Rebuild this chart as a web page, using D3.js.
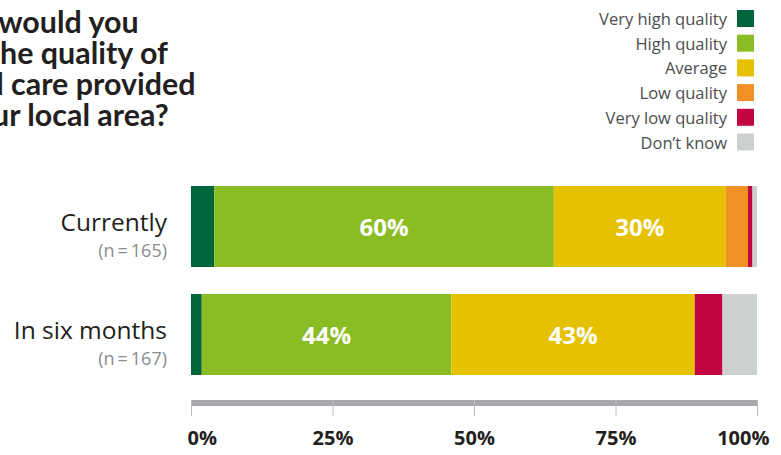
<!DOCTYPE html>
<html>
<head>
<meta charset="utf-8">
<script src="https://cdn.jsdelivr.net/npm/d3@7"></script>
<style>
  html, body { margin: 0; padding: 0; background: #fff; }
  svg { display: block; font-family: "Open Sans", "Noto Sans", sans-serif; }
</style>
</head>
<body>
<svg id="chart" width="781" height="455"></svg>
<script>
// Response categories, in stacking order
const categories = ["Very high quality", "High quality", "Average", "Low quality", "Very low quality", "Don\u2019t know"];
const colors = ["#00653a", "#8abd24", "#e5c100", "#f39025", "#c00541", "#cdd0d1"];

// Time periods and sample sizes
const periods = ["Currently", "In six months"];
const sampleSizes = ["(n\u2009=\u2009165)", "(n\u2009=\u2009167)"];

// Share of respondents (%) per category, one array per period
const currently = [4.1, 60.0, 30.4, 3.9, 0.8, 0.8];
const inSixMonths = [1.9, 44.1, 43.0, 0.0, 4.9, 6.1];
const seriesValues = [currently, inSixMonths];

// Segments that carry a value label
const labelledCategories = ["High quality", "Average"];

const tickValues = [0, 25, 50, 75, 100];
const tickLabels = ["0%", "25%", "50%", "75%", "100%"];

const titleLines = ["How would you", "rate the quality of", "social care provided", "in your local area?"];

const svg = d3.select("#chart");

const x = d3.scaleLinear().domain([0, 100]).range([191, 757]);
const y = d3.scaleBand().domain(periods).range([186, 375]).paddingInner(0.25).paddingOuter(0);

// Title: left-aligned block whose start sits past the left edge of the frame.
// Size is set so that the second line runs from "he quality of" to x = 168.
const title = svg.append("g");
const titleText = title.selectAll("text").data(titleLines).join("text")
  .attr("y", (d, i) => 33 + i * 31)
  .attr("font-family", "Lato, \"Open Sans\", sans-serif")
  .attr("font-size", 100)
  .attr("font-weight", 700)
  .attr("fill", "#231f20")
  .text(d => d);
const line2 = titleText.nodes()[1];
const prefix = line2.getSubStringLength(0, 6);          // "rate t"
const visible = line2.getComputedTextLength() - prefix;  // "he quality of"
const titleSize = 100 * 168 / visible;
titleText.attr("font-size", titleSize).attr("x", -prefix * titleSize / 100);

// Legend, right-aligned
const legend = svg.append("g");
const legendRow = legend.selectAll("g").data(categories).join("g")
  .attr("transform", (d, i) => `translate(0, ${10 + i * 24.7})`);
legendRow.append("rect")
  .attr("x", 737).attr("y", 0).attr("width", 17).attr("height", 17)
  .attr("fill", (d, i) => colors[i]);
legendRow.append("text")
  .attr("x", 727).attr("y", 15)
  .attr("text-anchor", "end")
  .attr("font-size", 16.5)
  .attr("fill", "#4d4d4f")
  .text(d => d);

// Stacked bars
const stacked = seriesValues.map((vals, pi) => {
  let acc = 0;
  return vals.map((v, ci) => {
    const seg = { period: periods[pi], category: categories[ci], ci, x0: acc, x1: acc + v, v };
    acc += v;
    return seg;
  });
});

const bars = svg.append("g");
stacked.forEach(row => {
  bars.selectAll(null).data(row.filter(s => s.v > 0)).join("rect")
    .attr("x", s => x(s.x0))
    .attr("y", s => y(s.period))
    .attr("width", s => x(s.x1) - x(s.x0))
    .attr("height", y.bandwidth())
    .attr("fill", s => colors[s.ci]);
  bars.selectAll(null).data(row.filter(s => labelledCategories.includes(s.category))).join("text")
    .attr("x", s => x((s.x0 + s.x1) / 2))
    .attr("y", s => y(s.period) + y.bandwidth() / 2 + 9)
    .attr("text-anchor", "middle")
    .attr("font-size", 24)
    .attr("font-weight", 700)
    .attr("fill", "#ffffff")
    .text(s => Math.round(s.v) + "%");
});

// Category labels
const catLabels = svg.append("g");
catLabels.selectAll("text.period").data(periods).join("text")
  .attr("class", "period")
  .attr("x", 167)
  .attr("y", d => y(d) + 45)
  .attr("text-anchor", "end")
  .attr("font-size", 24.5)
  .attr("fill", "#231f20")
  .text(d => d);
catLabels.selectAll("text.n").data(sampleSizes).join("text")
  .attr("class", "n")
  .attr("x", 167)
  .attr("y", (d, i) => y(periods[i]) + 71)
  .attr("text-anchor", "end")
  .attr("font-size", 18)
  .attr("fill", "#8a8c8e")
  .text(d => d);

// Axis: thick grey rule with thin ticks and bold labels
const axisY = 400;
const axis = svg.append("g").attr("transform", `translate(0, ${axisY})`);
axis.call(d3.axisBottom(x).tickValues(tickValues).tickSize(16).tickFormat((d, i) => tickLabels[i]));
axis.select(".domain").remove();
axis.selectAll(".tick line").attr("stroke", "#bcbec0").attr("stroke-width", 1);
axis.insert("rect", ":first-child")
  .attr("x", x(0)).attr("y", 0)
  .attr("width", x(100) - x(0)).attr("height", 6)
  .attr("fill", "#a7a9ac");
axis.selectAll(".tick text")
  .attr("y", 45).attr("dy", 0)
  .attr("font-family", "\"Open Sans\", sans-serif")
  .attr("font-size", 20)
  .attr("font-weight", 700)
  .attr("fill", "#231f20");
axis.selectAll(".tick").filter(d => d === 0).select("text").attr("text-anchor", "start").attr("dx", -4);
axis.selectAll(".tick").filter(d => d === 100).select("text").attr("text-anchor", "end").attr("dx", 12);
</script>
</body>
</html>
